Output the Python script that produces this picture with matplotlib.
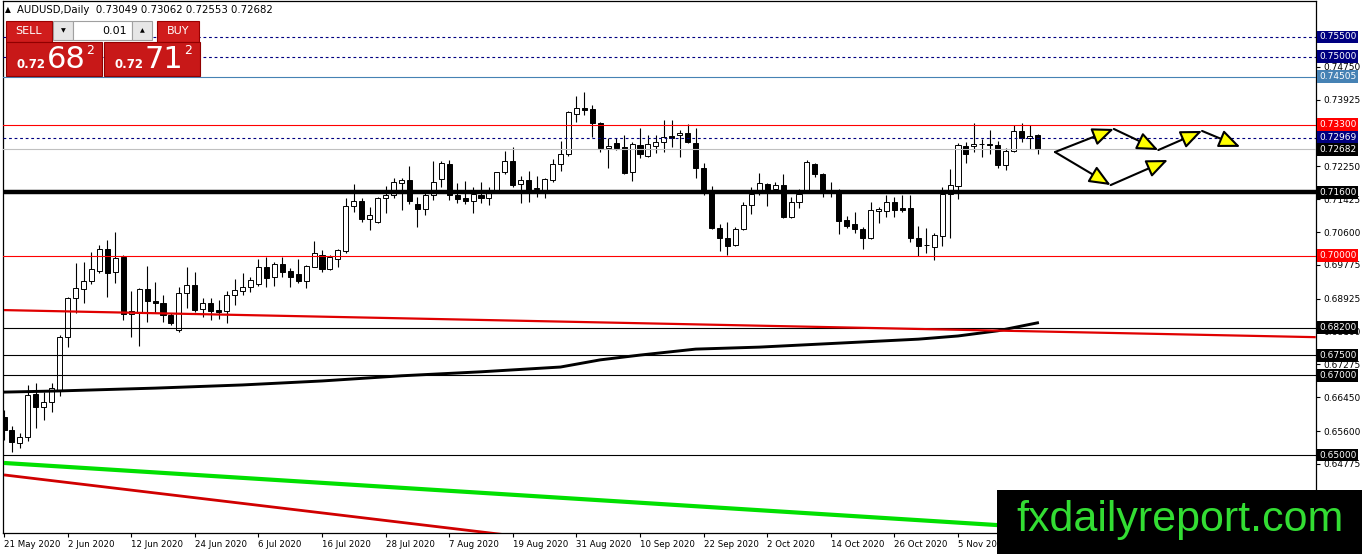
import numpy as np
import matplotlib.pyplot as plt
from matplotlib.patches import Rectangle, FancyArrowPatch

plt.rcParams['font.family'] = ['DejaVu Sans']

# daily candles AUDUSD, 21 May 2020 -> Nov 2020
opens = [0.6596, 0.6563, 0.6530, 0.6545, 0.6653, 0.6621, 0.6633, 0.6663, 0.6796, 0.6894,
         0.6917, 0.6937, 0.6962, 0.7018, 0.6960, 0.6997, 0.6854, 0.6857, 0.6917, 0.6887,
         0.6882, 0.6852, 0.6814, 0.6907, 0.6927, 0.6867, 0.6882, 0.6864, 0.6862, 0.6902,
         0.6912, 0.6922, 0.6930, 0.6972, 0.6947, 0.6980, 0.6962, 0.6955, 0.6937, 0.6972,
         0.7002, 0.6967, 0.6992, 0.7013, 0.7126, 0.7138, 0.7093, 0.7085, 0.7146, 0.7153,
         0.7183, 0.7191, 0.7131, 0.7118, 0.7153, 0.7193, 0.7231, 0.7153, 0.7146, 0.7138,
         0.7153, 0.7146, 0.7163, 0.7211, 0.7239, 0.7181, 0.7191, 0.7168, 0.7161, 0.7191,
         0.7231, 0.7256, 0.7357, 0.7372, 0.7369, 0.7334, 0.7271, 0.7284, 0.7274, 0.7211,
         0.7279, 0.7251, 0.7276, 0.7286, 0.7301, 0.7304, 0.7309, 0.7284, 0.7221, 0.7166,
         0.7070, 0.7045, 0.7028, 0.7068, 0.7128, 0.7161, 0.7181, 0.7168, 0.7178, 0.7098,
         0.7136, 0.7161, 0.7231, 0.7206, 0.7163, 0.7161, 0.7090, 0.7080, 0.7068, 0.7045,
         0.7113, 0.7113, 0.7136, 0.7121, 0.7121, 0.7045, 0.7028, 0.7023, 0.7050, 0.7156,
         0.7176, 0.7276, 0.7276, 0.7281, 0.7281, 0.7279, 0.7229, 0.7264, 0.7314, 0.7296,
         0.73049]
highs = [0.6613, 0.6573, 0.6555, 0.6676, 0.6681, 0.6658, 0.6681, 0.6802, 0.6897, 0.6982,
         0.6985, 0.7010, 0.7028, 0.7040, 0.7060, 0.7002, 0.6912, 0.6920, 0.6975, 0.6935,
         0.6902, 0.6857, 0.6922, 0.6972, 0.6960, 0.6894, 0.6894, 0.6889, 0.6912, 0.6942,
         0.6957, 0.6947, 0.6992, 0.6997, 0.6985, 0.6997, 0.6970, 0.6992, 0.6977, 0.7038,
         0.7015, 0.7002, 0.7018, 0.7146, 0.7181, 0.7146, 0.7123, 0.7148, 0.7176, 0.7196,
         0.7196, 0.7226, 0.7148, 0.7163, 0.7239, 0.7239, 0.7241, 0.7183, 0.7188, 0.7173,
         0.7186, 0.7173, 0.7211, 0.7264, 0.7274, 0.7201, 0.7213, 0.7201, 0.7196, 0.7244,
         0.7289, 0.7364, 0.7402, 0.7412, 0.7379, 0.7337, 0.7296, 0.7296, 0.7304, 0.7286,
         0.7321, 0.7304, 0.7304, 0.7342, 0.7342, 0.7316, 0.7332, 0.7321, 0.7234, 0.7176,
         0.7080, 0.7085, 0.7073, 0.7136, 0.7173, 0.7208, 0.7183, 0.7186, 0.7206, 0.7148,
         0.7168, 0.7241, 0.7234, 0.7208, 0.7186, 0.7168, 0.7100, 0.7111, 0.7073, 0.7136,
         0.7123, 0.7153, 0.7148, 0.7153, 0.7153, 0.7075, 0.7070, 0.7058, 0.7173, 0.7218,
         0.7284, 0.7286, 0.7334, 0.7294, 0.7316, 0.7289, 0.7271, 0.7329, 0.7334, 0.7329,
         0.73062]
lows = [0.6538, 0.6508, 0.6518, 0.6535, 0.6568, 0.6588, 0.6608, 0.6648, 0.6771, 0.6857,
        0.6882, 0.6930, 0.6957, 0.6897, 0.6932, 0.6839, 0.6796, 0.6774, 0.6834, 0.6857,
        0.6834, 0.6827, 0.6809, 0.6869, 0.6859, 0.6847, 0.6839, 0.6842, 0.6832, 0.6877,
        0.6902, 0.6910, 0.6925, 0.6922, 0.6925, 0.6947, 0.6922, 0.6932, 0.6920, 0.6972,
        0.6960, 0.6965, 0.6972, 0.7008, 0.7111, 0.7085, 0.7065, 0.7083, 0.7108, 0.7146,
        0.7116, 0.7131, 0.7073, 0.7103, 0.7141, 0.7173, 0.7141, 0.7133, 0.7131, 0.7108,
        0.7133, 0.7128, 0.7158, 0.7206, 0.7173, 0.7133, 0.7136, 0.7148, 0.7146, 0.7186,
        0.7213, 0.7251, 0.7337, 0.7354, 0.7299, 0.7261, 0.7221, 0.7266, 0.7206, 0.7188,
        0.7246, 0.7249, 0.7259, 0.7261, 0.7274, 0.7249, 0.7284, 0.7196, 0.7153, 0.7068,
        0.7013, 0.7002, 0.7025, 0.7065, 0.7105, 0.7153, 0.7126, 0.7161, 0.7095, 0.7095,
        0.7121, 0.7158, 0.7198, 0.7148, 0.7148, 0.7055, 0.7070, 0.7058, 0.7018, 0.7043,
        0.7083, 0.7098, 0.7098, 0.7111, 0.7035, 0.7000, 0.7008, 0.6990, 0.7025, 0.7045,
        0.7143, 0.7234, 0.7261, 0.7249, 0.7256, 0.7221, 0.7216, 0.7261, 0.7286, 0.7269,
        0.72553]
closes = [0.6563, 0.6533, 0.6545, 0.6651, 0.6621, 0.6633, 0.6668, 0.6796, 0.6894, 0.6920,
          0.6937, 0.6967, 0.7018, 0.6957, 0.6995, 0.6854, 0.6862, 0.6917, 0.6887, 0.6882,
          0.6852, 0.6832, 0.6907, 0.6927, 0.6864, 0.6882, 0.6862, 0.6859, 0.6902, 0.6915,
          0.6922, 0.6940, 0.6972, 0.6945, 0.6980, 0.6960, 0.6947, 0.6937, 0.6975, 0.7008,
          0.6967, 0.6997, 0.7015, 0.7126, 0.7138, 0.7093, 0.7103, 0.7146, 0.7153, 0.7186,
          0.7191, 0.7138, 0.7118, 0.7153, 0.7186, 0.7234, 0.7153, 0.7143, 0.7138, 0.7156,
          0.7146, 0.7166, 0.7211, 0.7239, 0.7178, 0.7191, 0.7161, 0.7171, 0.7193, 0.7231,
          0.7256, 0.7362, 0.7372, 0.7367, 0.7334, 0.7271, 0.7276, 0.7271, 0.7208, 0.7281,
          0.7256, 0.7281, 0.7286, 0.7299, 0.7296, 0.7309, 0.7286, 0.7221, 0.7166, 0.7070,
          0.7045, 0.7025, 0.7068, 0.7128, 0.7156, 0.7183, 0.7161, 0.7178, 0.7098, 0.7136,
          0.7156, 0.7236, 0.7206, 0.7163, 0.7161, 0.7088, 0.7075, 0.7068, 0.7045, 0.7116,
          0.7118, 0.7136, 0.7116, 0.7116, 0.7045, 0.7025, 0.7027, 0.7053, 0.7156, 0.7178,
          0.7279, 0.7256, 0.7281, 0.7282, 0.7279, 0.7229, 0.7264, 0.7314, 0.7296, 0.7301,
          0.72682]

date_labels = ['21 May 2020', '2 Jun 2020', '12 Jun 2020', '24 Jun 2020', '6 Jul 2020',
               '16 Jul 2020', '28 Jul 2020', '7 Aug 2020', '19 Aug 2020', '31 Aug 2020',
               '10 Sep 2020', '22 Sep 2020', '2 Oct 2020', '14 Oct 2020', '26 Oct 2020',
               '5 Nov 2020']
date_idx = [0, 8, 16, 24, 32, 40, 48, 56, 64, 72, 80, 88, 96, 104, 112, 120]

# moving average, sampled along the black curve
ma_idx = [0, 7, 19, 30, 40, 50, 60, 70, 75, 80, 87, 95, 105, 115, 120, 125, 130]
ma_val = [0.6658, 0.6661, 0.6668, 0.6676, 0.6686, 0.6699, 0.6709, 0.6721, 0.6739, 0.6751,
          0.6766, 0.6771, 0.6781, 0.6791, 0.6799, 0.6812, 0.6832]

# trend lines (bar index, price) end points
red_trend = [(0, 0.6864), (165, 0.6796)]
green_trend = [(0, 0.6480), (165, 0.6274)]
red_low_trend = [(0, 0.6450), (70, 0.6283)]

# horizontal levels
levels = [0.75500, 0.75000, 0.74505, 0.73300, 0.72969, 0.72682, 0.71600, 0.70000,
          0.68200, 0.67500, 0.67000, 0.65000]
level_col = ['#000080', '#000080', '#4682B4', '#FF0000', '#000080', '#C0C0C0', 'black', '#FF0000',
             'black', 'black', 'black', 'black']
level_box = ['#000080', '#000080', '#4682B4', '#FF0000', '#000080', 'black', 'black', '#FF0000',
             'black', 'black', 'black', 'black']
level_ls = ['dash', 'dash', '-', '-', 'dash', '-', '-', '-', '-', '-', '-', '-']
level_lw = [0.8, 0.8, 0.8, 0.8, 0.8, 0.8, 3.2, 0.8, 0.8, 0.8, 0.8, 0.8]

scale_ticks = [0.74750, 0.73925, 0.72250, 0.71425, 0.70600, 0.69775, 0.68925, 0.68100,
               0.67275, 0.66450, 0.65600, 0.64775]

# forecast path drawn with arrows
path_idx = [132.2, 139.6, 139.2, 145.2, 146.4, 150.7, 155.5]
path_px = [0.7261, 0.7319, 0.7178, 0.7266, 0.7241, 0.7314, 0.7274]
arrows = [(0, 1), (0, 2), (1, 3), (2, 4), (3, 5), (5, 6)]

W, H = 1362, 554
fig = plt.figure(figsize=(W / 100, H / 100), dpi=100)
fig.patch.set_facecolor('white')
ax = fig.add_axes([3 / W, 21 / H, 1313 / W, 532 / H])

n = len(opens)
x = np.arange(n)
o = np.array(opens); c = np.array(closes)
up = c >= o
ax.vlines(x, lows, highs, color='black', lw=0.8, zorder=3)
ax.bar(x[up], (c - o)[up], bottom=o[up], width=0.64, color='white', edgecolor='black', lw=0.7, zorder=3.1)
ax.bar(x[~up], (o - c)[~up], bottom=c[~up], width=0.64, color='black', edgecolor='black', lw=0.7, zorder=3.1)

for lv, col, ls, lw in zip(levels, level_col, level_ls, level_lw):
    ax.axhline(lv, color=col, lw=lw, ls=(0, (2.5, 2.5)) if ls == 'dash' else '-', zorder=4)

ax.plot(ma_idx, ma_val, color='black', lw=2.1, zorder=4.5)
for tl, col, lw in [(red_trend, '#E00000', 1.6), (green_trend, '#00E000', 3.0), (red_low_trend, '#D00000', 2.0)]:
    ax.plot([p[0] for p in tl], [p[1] for p in tl], color=col, lw=lw, zorder=4.5, solid_capstyle='butt')

for a, b in arrows:
    ax.add_patch(FancyArrowPatch((path_idx[a], path_px[a]), (path_idx[b], path_px[b]),
                                 arrowstyle='-|>,head_length=13,head_width=5.5', mutation_scale=1,
                                 fc='#FFFF00', ec='black', lw=1.5, shrinkA=0, shrinkB=0, zorder=5))

px_bar = 7.95
ax.set_xlim(-1 / px_bar, 1312 / px_bar)
ax.set_ylim(0.63041, 0.76404)

ax.yaxis.tick_right()
ax.set_yticks(scale_ticks)
ax.set_yticklabels(['%.5f' % t for t in scale_ticks])
ax.tick_params(axis='y', length=3, width=0.8, pad=2, labelsize=6.5, colors='black')
ax.set_xticks(date_idx)
ax.set_xticklabels(date_labels)
for lbl in ax.get_xticklabels():
    lbl.set_ha('left')
ax.tick_params(axis='x', length=3, width=0.8, pad=2, labelsize=6.2)
for sp in ax.spines.values():
    sp.set_color('black'); sp.set_linewidth(0.9)

tr = ax.get_yaxis_transform()
for lv, bc in zip(levels, level_box):
    ax.text(1.0022, lv, '%.5f' % lv, transform=tr, ha='left', va='center', fontsize=6.5, color='white',
            bbox=dict(boxstyle='square,pad=0.22', fc=bc, ec='none'), clip_on=False, zorder=6)

# overlay in pixel units: header, trade panel, watermark
ov = fig.add_axes([0, 0, 1, 1], zorder=10)
ov.set_xlim(0, W); ov.set_ylim(H, 0); ov.axis('off'); ov.patch.set_alpha(0)

ov.text(5, 10, '\u25b2', fontsize=5.5, va='center')
ov.text(17, 10, 'AUDUSD,Daily  %.5f %.5f %.5f %.5f' % (opens[-1], highs[-1], lows[-1], closes[-1]),
        fontsize=7.3, va='center')

red = '#D01C1C'
ov.add_patch(Rectangle((6, 21), 46, 21, fc=red, ec='#9A0000', lw=0.8))
ov.text(29, 31.5, 'SELL', color='white', fontsize=8, ha='center', va='center')
ov.add_patch(Rectangle((53, 21), 20, 19, fc='#E6E6E6', ec='#A0A0A0', lw=0.8))
ov.text(63, 30.5, '\u25bc', fontsize=4.5, ha='center', va='center')
ov.add_patch(Rectangle((73, 21), 59, 19, fc='white', ec='#A0A0A0', lw=0.8))
ov.text(127, 30.5, '0.01', fontsize=8, ha='right', va='center')
ov.add_patch(Rectangle((132, 21), 20, 19, fc='#E6E6E6', ec='#A0A0A0', lw=0.8))
ov.text(142, 30.5, '\u25b2', fontsize=4.5, ha='center', va='center')
ov.add_patch(Rectangle((157, 21), 42, 21, fc=red, ec='#9A0000', lw=0.8))
ov.text(178, 31.5, 'BUY', color='white', fontsize=8, ha='center', va='center')

for x0, big in [(6, '68'), (104, '71')]:
    ov.add_patch(Rectangle((x0, 42), 96, 34, fc='#C81818', ec='#900000', lw=0.8))
    ov.text(x0 + 25, 65, '0.72', color='white', fontsize=8.5, fontweight='bold', ha='center', va='center')
    ov.text(x0 + 60, 60, big, color='white', fontsize=22, ha='center', va='center')
    ov.text(x0 + 84, 51, '2', color='white', fontsize=9, ha='center', va='center')

ov.add_patch(Rectangle((997, 490), W - 997, H - 490, fc='black', ec='none'))
ov.text(1180, 520, 'fxdailyreport.com', color='#33DD33', fontsize=31, ha='center', va='center',
        family='Liberation Sans')

fig.savefig('out.png', dpi=100)
